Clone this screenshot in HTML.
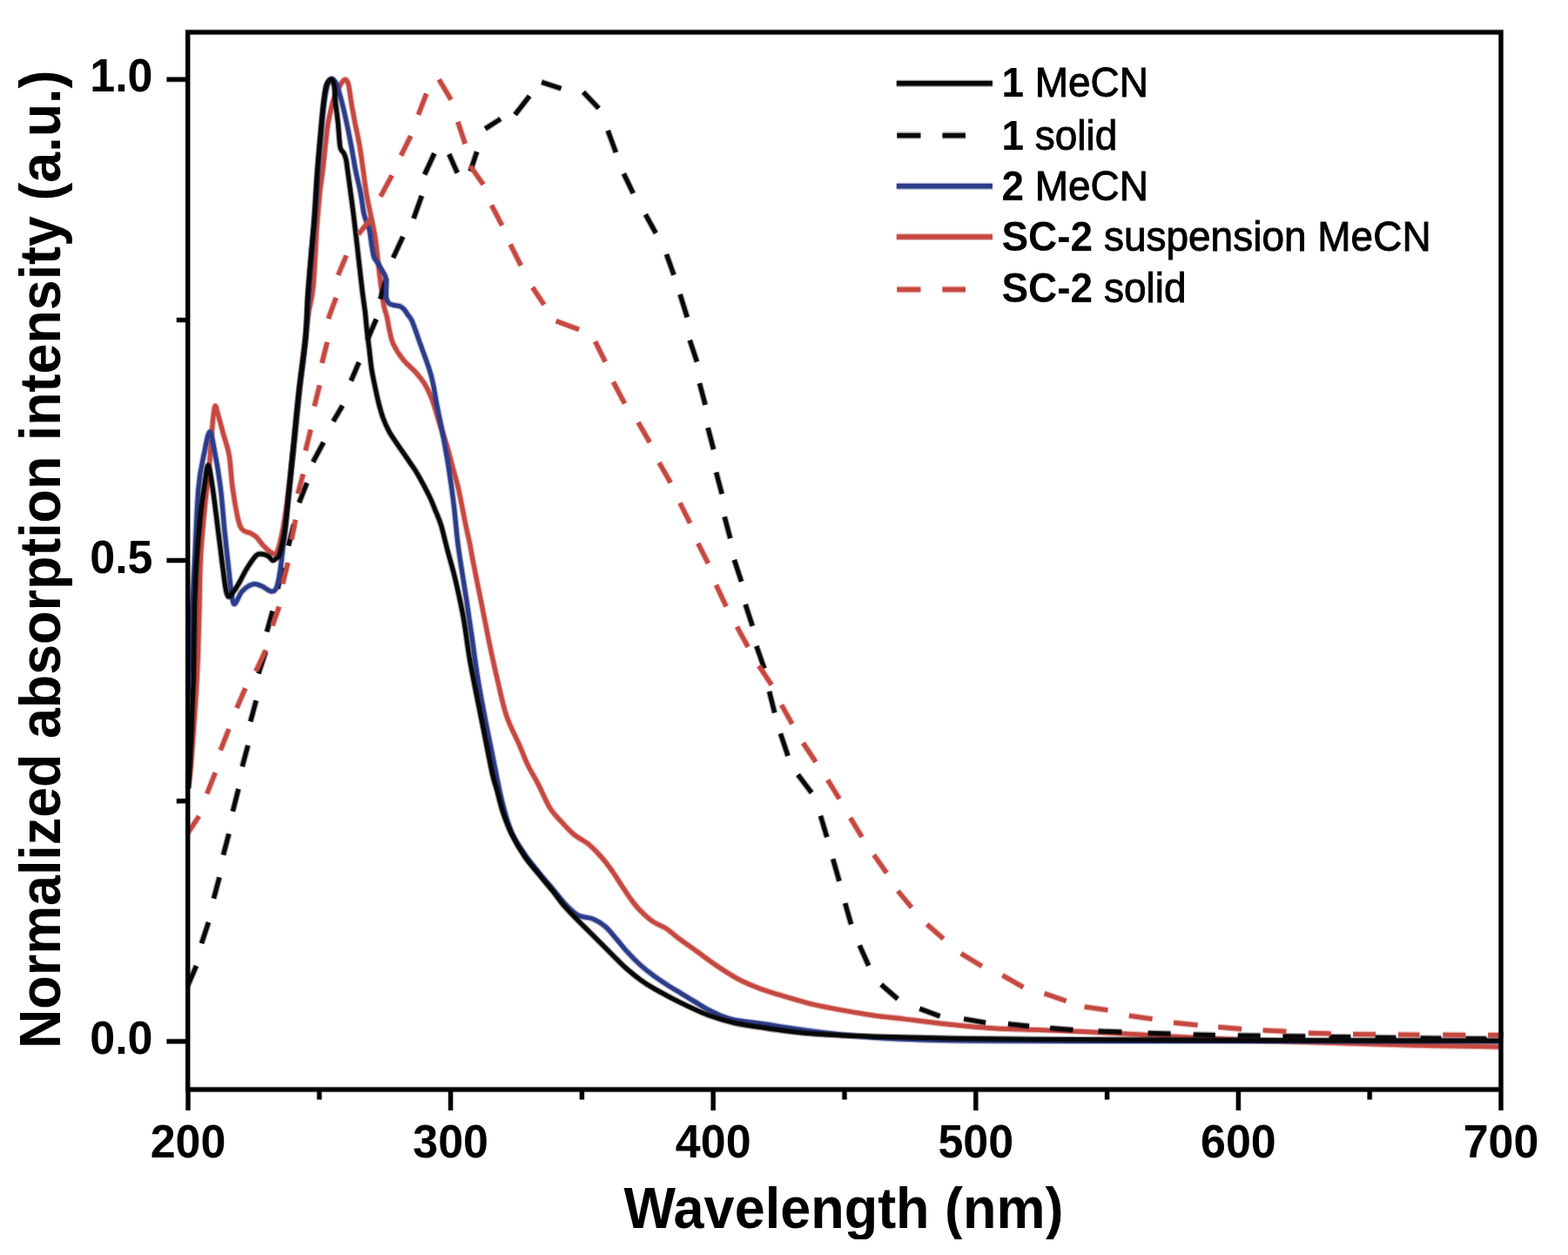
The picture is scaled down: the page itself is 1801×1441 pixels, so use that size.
<!DOCTYPE html>
<html><head><meta charset="utf-8"><title>Normalized absorption spectra</title>
<style>html,body{margin:0;padding:0;background:#fff;overflow:hidden;}svg{display:block;}text{white-space:pre;}</style>
</head><body>
<svg width="1801" height="1441" viewBox="0 0 1801 1441">
<defs>
<clipPath id="plotclip"><rect x="213" y="34" width="1514" height="1220"/></clipPath>
<path id="rs" d="M216.0,905.0 C216.6,899.7 218.1,894.5 219.8,873.0 C221.5,851.5 224.9,804.0 226.4,776.0 C227.9,748.0 228.1,727.7 228.8,705.0 C229.5,682.3 229.4,660.8 230.5,640.0 C231.6,619.2 233.9,596.7 235.5,580.0 C237.1,563.3 238.8,553.3 240.0,540.0 C241.2,526.7 241.9,512.2 243.0,500.0 C244.1,487.8 245.4,470.7 246.7,467.0 C248.0,463.3 249.3,472.5 251.0,478.0 C252.7,483.5 254.9,492.4 257.0,500.0 C259.1,507.6 261.6,512.9 263.3,523.3 C265.1,533.7 265.4,549.0 267.5,562.5 C269.6,576.0 272.3,595.7 275.8,604.0 C279.3,612.3 285.2,610.4 288.3,612.5 C291.4,614.6 292.2,614.3 294.6,616.7 C297.1,619.1 299.9,623.9 303.0,627.0 C306.1,630.1 310.7,634.4 313.3,635.4 C315.9,636.4 316.7,636.9 318.5,633.0 C320.3,629.1 322.1,621.7 324.0,612.0 C325.9,602.3 328.0,589.5 330.0,575.0 C332.0,560.5 334.0,542.8 336.0,525.0 C338.0,507.2 340.0,486.8 342.0,468.0 C344.0,449.2 346.0,429.7 348.0,412.0 C350.0,394.3 352.1,375.7 354.0,362.0 C355.9,348.3 358.0,347.0 359.7,330.0 C361.4,313.0 362.7,278.3 364.0,260.0 C365.3,241.7 366.4,230.8 367.5,220.0 C368.6,209.2 369.6,205.0 370.8,195.0 C372.0,185.0 373.5,168.9 374.5,160.0 C375.5,151.1 375.4,149.0 376.8,141.7 C378.2,134.4 380.5,123.0 382.6,116.0 C384.7,109.0 387.8,103.8 389.6,100.0 C391.4,96.2 392.2,94.9 393.5,93.5 C394.8,92.1 395.9,90.8 397.1,91.5 C398.3,92.2 399.5,93.8 400.5,98.0 C401.5,102.2 402.1,109.4 403.3,116.7 C404.5,124.0 406.3,133.4 407.9,141.7 C409.5,150.0 411.4,157.8 412.9,166.7 C414.4,175.6 415.8,185.8 417.1,195.0 C418.4,204.2 419.4,213.1 420.8,221.7 C422.2,230.3 424.1,238.4 425.8,246.7 C427.5,255.0 429.4,262.8 430.8,271.7 C432.2,280.6 433.2,291.9 434.2,300.0 C435.1,308.1 435.8,314.2 436.5,320.0 C437.2,325.8 437.8,329.6 438.6,335.0 C439.4,340.4 440.2,347.5 441.2,352.5 C442.3,357.5 443.7,360.4 444.7,365.0 C445.7,369.6 446.3,375.0 447.5,380.0 C448.7,385.0 449.1,389.4 451.7,395.0 C454.3,400.6 459.1,408.0 463.3,413.3 C467.5,418.6 472.5,422.0 476.7,426.7 C480.9,431.4 485.0,436.1 488.3,441.7 C491.6,447.2 493.9,452.5 496.7,460.0 C499.5,467.5 502.2,478.1 505.0,486.7 C507.8,495.3 510.8,503.4 513.3,511.7 C515.8,520.0 517.8,528.4 520.0,536.7 C522.2,545.0 524.2,550.6 526.7,561.7 C529.2,572.8 532.8,592.8 535.0,603.3 C537.2,613.8 538.4,618.1 539.8,625.0 C541.2,631.9 541.2,633.8 543.3,644.4 C545.4,655.0 549.2,674.0 552.2,688.8 C555.2,703.6 557.9,718.2 561.0,733.2 C564.1,748.2 567.5,764.2 571.0,779.0 C574.5,793.8 577.5,809.3 581.8,822.0 C586.0,834.7 592.4,845.8 596.5,855.3 C600.6,864.8 602.9,871.5 606.5,879.0 C610.1,886.5 613.8,891.9 618.0,900.0 C622.2,908.1 627.1,920.4 631.7,927.8 C636.3,935.2 641.0,939.3 645.6,944.4 C650.2,949.5 654.3,954.1 659.4,958.3 C664.5,962.5 671.0,965.2 676.1,969.4 C681.2,973.6 685.8,978.7 690.0,983.3 C694.2,987.9 697.4,992.1 701.1,997.2 C704.8,1002.3 708.5,1008.3 712.2,1013.9 C715.9,1019.5 719.6,1025.5 723.3,1030.6 C727.0,1035.7 729.9,1039.8 734.4,1044.4 C738.9,1049.0 745.0,1054.7 750.1,1058.3 C755.2,1061.9 760.0,1062.8 765.0,1066.0 C770.0,1069.2 773.8,1073.2 780.0,1077.8 C786.2,1082.4 794.7,1088.3 802.0,1093.6 C809.3,1098.9 816.5,1104.4 824.0,1109.4 C831.5,1114.4 839.5,1119.7 847.0,1123.7 C854.5,1127.7 861.7,1130.7 869.0,1133.6 C876.3,1136.5 883.7,1138.8 891.0,1141.1 C898.3,1143.4 906.5,1145.6 913.0,1147.5 C919.5,1149.4 923.0,1150.7 930.0,1152.4 C937.0,1154.1 946.7,1156.0 955.0,1157.6 C963.3,1159.2 971.7,1160.7 980.0,1162.1 C988.3,1163.5 996.7,1165.0 1005.0,1166.2 C1013.3,1167.4 1022.7,1168.2 1030.0,1169.0 C1037.3,1169.8 1042.2,1170.5 1049.0,1171.3 C1055.8,1172.1 1063.7,1173.1 1071.0,1174.0 C1078.3,1174.9 1085.5,1175.7 1093.0,1176.5 C1100.5,1177.3 1108.5,1178.0 1116.0,1178.7 C1123.5,1179.4 1130.7,1179.9 1138.0,1180.4 C1145.3,1180.9 1150.5,1181.2 1160.0,1181.6 C1169.5,1182.0 1180.8,1182.1 1195.0,1182.6 C1209.2,1183.1 1226.5,1183.7 1245.0,1184.6 C1263.5,1185.5 1288.0,1186.8 1306.0,1187.8 C1324.0,1188.8 1337.3,1189.7 1353.0,1190.5 C1368.7,1191.3 1383.8,1192.1 1400.0,1192.8 C1416.2,1193.5 1433.3,1194.2 1450.0,1194.8 C1466.7,1195.4 1483.3,1196.0 1500.0,1196.5 C1516.7,1197.0 1533.3,1197.5 1550.0,1198.0 C1566.7,1198.5 1583.3,1199.0 1600.0,1199.5 C1616.7,1200.0 1629.3,1200.4 1650.0,1200.8 C1670.7,1201.2 1711.7,1201.8 1724.0,1202.0"/>
<path id="bd" d="M215.7,1131.7 L225.5,1109.0 M231.5,1083.2 L239.5,1059.0 M245.5,1031.7 L252.0,1007.4 M256.5,981.7 L262.9,957.4 M267.4,931.7 L273.9,905.9 M278.3,880.1 L284.8,855.9 M287.7,828.5 L294.2,804.3 M296.9,773.4 L305.1,748.6 M306.5,725.4 L313.1,701.6 M318.9,676.0 L325.1,651.6 M331.3,626.6 L337.5,602.2 M343.6,577.1 L352.5,554.5 M359.5,530.5 L371.6,507.9 M382.8,483.8 L393.4,465.7 M403.2,437.3 L412.3,416.1 M421.8,390.4 L432.2,366.6 M436.9,343.4 L443.6,319.6 M451.6,296.0 L462.8,271.8 M475.1,250.9 L484.4,224.8 M487.7,200.4 L498.9,176.1 M515.8,176.9 L525.3,198.4 M540.3,196.7 L547.7,174.2 M557.3,147.8 L575.0,136.5 M591.6,131.6 L608.2,110.3 M622.1,94.3 L644.5,101.7 M670.0,105.7 L687.7,124.4 M698.2,149.9 L707.4,175.0 M716.4,199.4 L727.3,222.0 M741.4,246.2 L753.3,267.8 M765.5,292.0 L774.0,315.7 M781.1,337.9 L789.3,364.3 M792.3,390.6 L800.5,415.4 M803.5,440.1 L810.1,464.9 M813.1,491.2 L819.6,516.0 M822.6,542.3 L829.2,567.1 M832.2,593.4 L838.8,618.2 M843.4,642.9 L851.6,667.7 M856.2,694.0 L864.3,718.8 M868.9,741.9 L877.9,767.6 M883.6,793.9 L889.7,818.3 M896.5,842.3 L905.0,867.9 M916.5,889.6 L932.2,910.3 M942.5,936.7 L949.8,961.1 M956.7,986.2 L964.0,1011.8 M970.7,1037.1 L977.6,1061.2 M987.3,1085.4 L997.7,1108.7 M1012.2,1130.5 L1031.1,1147.0 M1056.3,1158.2 L1079.6,1166.8 M1107.1,1169.9 L1132.1,1174.3 M1157.9,1175.8 L1182.1,1178.3 M1206.1,1180.5 L1232.4,1182.5 M1261.6,1184.0 L1288.4,1185.0 M1318.6,1186.3 L1344.6,1187.0 M1370.7,1188.0 L1395.9,1188.5 M1421.8,1189.0 L1447.6,1189.3 M1473.5,1189.7 L1499.3,1190.0 M1526.6,1190.5 L1551.4,1190.8 M1579.6,1191.3 L1603.4,1191.5 M1631.6,1192.0 L1655.4,1192.2 M1683.6,1192.5 L1707.4,1192.7"/>
<path id="bl" d="M216.0,800.0 C216.8,783.3 219.2,725.8 220.5,700.0 C221.8,674.2 222.2,668.3 223.5,645.0 C224.8,621.7 226.1,581.2 228.0,560.0 C229.9,538.8 232.9,528.7 235.0,518.0 C237.1,507.3 239.0,496.5 240.8,496.0 C242.6,495.5 243.9,504.3 246.0,515.0 C248.1,525.7 251.3,544.2 253.3,560.0 C255.3,575.8 256.4,594.0 258.0,610.0 C259.6,626.0 261.7,644.0 263.0,656.0 C264.3,668.0 264.9,675.8 266.0,682.0 C267.1,688.2 267.6,694.0 269.6,693.5 C271.6,693.0 274.5,682.8 278.0,679.0 C281.5,675.2 286.6,671.8 290.4,670.8 C294.2,669.8 297.3,671.6 300.8,673.0 C304.3,674.4 308.5,678.7 311.2,679.0 C314.0,679.3 315.8,678.8 317.5,675.0 C319.2,671.2 320.3,665.2 321.7,656.0 C323.1,646.8 324.3,635.2 326.0,620.0 C327.7,604.8 330.0,584.2 332.0,565.0 C334.0,545.8 336.0,524.7 338.0,505.0 C340.0,485.3 341.8,466.3 344.0,447.0 C346.2,427.7 348.8,413.5 351.0,389.0 C353.2,364.5 355.2,323.2 357.0,300.0 C358.8,276.8 360.1,267.5 361.5,250.0 C362.9,232.5 363.8,213.1 365.2,195.0 C366.6,176.9 368.6,154.8 369.8,141.7 C371.0,128.6 371.5,124.0 372.5,116.7 C373.5,109.4 374.8,102.1 376.0,98.0 C377.2,93.9 378.8,93.1 380.0,92.0 C381.2,90.9 381.8,90.5 383.0,91.5 C384.2,92.5 385.4,93.8 387.0,98.0 C388.6,102.2 390.6,109.4 392.5,116.7 C394.4,124.0 396.5,133.4 398.3,141.7 C400.1,150.0 401.6,157.8 403.3,166.7 C405.0,175.6 406.5,185.8 408.3,195.0 C410.1,204.2 412.5,213.1 414.2,221.7 C415.9,230.3 416.6,239.8 418.3,246.7 C420.0,253.6 422.8,257.8 424.2,263.3 C425.6,268.9 425.8,274.7 426.7,280.0 C427.6,285.3 428.3,291.3 429.5,295.0 C430.7,298.7 432.6,299.7 434.0,302.0 C435.4,304.3 436.6,306.5 438.0,309.0 C439.4,311.5 441.5,314.5 442.5,317.0 C443.5,319.5 443.6,321.3 443.8,324.0 C444.0,326.7 443.5,330.0 443.5,333.0 C443.5,336.0 443.2,339.4 443.8,342.0 C444.4,344.6 445.5,347.1 447.0,348.5 C448.5,349.9 451.0,350.0 453.0,350.5 C455.0,351.0 457.2,350.8 459.0,351.5 C460.8,352.2 462.4,353.3 464.0,355.0 C465.6,356.7 466.9,359.2 468.5,361.5 C470.1,363.8 471.0,363.5 473.3,368.8 C475.6,374.1 478.8,383.9 482.1,393.2 C485.4,402.4 490.6,416.2 493.2,424.3 C495.8,432.4 496.2,435.0 497.7,442.0 C499.2,449.0 500.2,456.9 502.1,466.5 C504.0,476.1 506.6,488.0 508.8,499.8 C511.0,511.6 513.4,524.5 515.4,537.5 C517.4,550.5 519.3,563.8 521.0,577.5 C522.7,591.2 524.1,608.8 525.4,619.9 C526.7,631.0 527.1,632.9 528.8,644.4 C530.5,655.9 533.5,674.0 535.8,688.8 C538.0,703.6 540.2,718.4 542.3,733.2 C544.4,748.0 546.2,762.8 548.6,777.6 C551.0,792.4 553.8,807.2 556.6,822.0 C559.4,836.8 562.2,850.1 565.5,866.4 C568.8,882.7 572.9,905.0 576.6,919.9 C580.3,934.8 583.3,945.6 587.8,956.0 C592.3,966.4 598.2,974.2 603.5,982.0 C608.8,989.8 614.1,995.8 619.5,1002.5 C624.9,1009.2 630.9,1015.9 636.0,1022.0 C641.1,1028.1 645.5,1034.2 650.2,1039.0 C654.9,1043.8 658.9,1048.2 664.1,1050.9 C669.3,1053.6 676.3,1053.1 681.5,1055.3 C686.7,1057.5 690.7,1059.9 695.3,1063.9 C699.9,1067.9 705.1,1074.8 709.2,1079.5 C713.3,1084.2 715.6,1087.7 720.0,1092.4 C724.4,1097.2 730.3,1103.3 735.5,1108.0 C740.7,1112.7 745.9,1116.7 751.1,1120.5 C756.3,1124.3 761.4,1127.7 766.6,1131.0 C771.8,1134.3 777.0,1137.4 782.2,1140.6 C787.4,1143.8 792.5,1146.9 797.7,1150.0 C802.9,1153.1 808.1,1156.5 813.3,1159.3 C818.5,1162.0 823.6,1164.5 828.8,1166.5 C834.0,1168.5 836.6,1169.8 844.4,1171.3 C852.2,1172.8 865.1,1174.0 875.5,1175.5 C885.9,1177.0 895.9,1178.7 906.6,1180.3 C917.4,1181.9 927.8,1183.5 940.0,1185.0 C952.2,1186.5 966.7,1188.1 980.0,1189.3 C993.3,1190.5 1001.2,1191.4 1020.0,1192.3 C1038.8,1193.2 1056.3,1194.3 1093.0,1194.8 C1129.7,1195.3 1134.8,1195.3 1240.0,1195.4 C1345.2,1195.5 1643.3,1195.3 1724.0,1195.3"/>
<path id="bs" d="M216.5,905.0 C217.0,895.8 218.7,867.5 219.5,850.0 C220.3,832.5 220.8,812.3 221.3,800.0 C221.8,787.7 221.9,791.3 222.3,776.0 C222.7,760.7 223.1,727.3 223.5,708.0 C223.9,688.7 224.4,673.8 225.0,660.0 C225.6,646.2 226.3,637.5 227.3,625.0 C228.3,612.5 229.7,596.5 231.0,585.0 C232.3,573.5 233.6,564.4 235.0,556.0 C236.4,547.6 237.7,533.8 239.2,534.5 C240.7,535.2 242.4,548.2 244.2,560.0 C246.0,571.8 248.2,590.8 250.0,605.0 C251.8,619.2 253.5,633.2 255.0,645.0 C256.5,656.8 258.0,669.3 259.2,676.0 C260.4,682.7 261.0,684.2 262.3,685.0 C263.6,685.8 265.1,683.4 267.0,681.0 C268.9,678.6 271.0,675.6 273.8,670.8 C276.6,666.0 280.5,657.5 284.0,652.0 C287.5,646.5 291.5,640.1 294.6,637.5 C297.8,634.9 300.5,636.2 302.9,636.5 C305.2,636.8 307.0,637.8 308.7,639.0 C310.4,640.2 311.8,643.2 313.3,643.5 C314.8,643.8 316.3,641.9 317.5,641.0 C318.7,640.1 319.5,640.7 320.6,638.0 C321.7,635.3 322.8,630.4 324.0,625.0 C325.2,619.6 326.4,616.4 327.7,605.9 C329.0,595.4 330.3,579.2 332.0,562.2 C333.7,545.2 335.9,523.3 337.9,503.9 C339.8,484.5 341.5,465.0 343.7,445.6 C345.9,426.2 349.4,405.0 351.0,387.4 C352.6,369.8 352.4,354.6 353.4,340.0 C354.4,325.4 355.5,314.9 356.8,300.0 C358.1,285.1 359.7,268.0 361.0,250.5 C362.3,233.0 363.2,213.1 364.6,195.0 C366.0,176.9 368.0,154.8 369.2,141.7 C370.4,128.6 370.8,123.8 371.7,116.7 C372.6,109.6 373.4,103.1 374.5,99.0 C375.6,94.9 376.8,93.2 378.0,92.0 C379.2,90.8 380.5,90.2 381.5,91.5 C382.5,92.8 383.4,95.8 384.0,100.0 C384.6,104.2 384.6,109.8 385.3,116.7 C386.0,123.7 387.5,133.4 388.3,141.7 C389.1,150.0 389.8,161.6 390.4,166.7 C391.0,171.8 391.4,170.9 392.2,172.5 C393.0,174.1 394.1,174.2 395.0,176.0 C395.9,177.8 396.8,180.1 397.5,183.3 C398.2,186.5 397.9,185.8 399.2,195.0 C400.4,204.2 403.2,224.1 405.0,238.3 C406.8,252.5 408.2,264.2 410.0,280.0 C411.8,295.8 414.4,319.9 416.0,333.0 C417.6,346.1 418.5,350.5 419.4,358.3 C420.3,366.1 420.7,373.1 421.5,380.0 C422.3,386.9 423.1,392.5 424.0,400.0 C424.9,407.5 425.8,417.5 427.0,425.0 C428.2,432.5 429.7,438.7 431.0,445.0 C432.3,451.3 433.5,457.2 435.0,463.0 C436.5,468.8 438.1,474.7 440.0,480.0 C441.9,485.3 444.2,490.3 446.7,495.0 C449.2,499.7 452.2,503.8 455.0,508.0 C457.8,512.2 460.6,516.0 463.3,520.0 C466.1,524.0 468.7,527.8 471.5,532.0 C474.3,536.2 476.4,538.7 480.0,545.0 C483.6,551.3 490.0,563.2 493.3,570.0 C496.6,576.8 497.8,580.5 500.0,586.0 C502.2,591.5 504.3,595.4 506.7,603.3 C509.1,611.2 511.6,622.8 514.4,633.3 C517.2,643.8 520.3,653.6 523.3,666.6 C526.3,679.6 530.0,696.2 532.6,711.0 C535.2,725.8 536.7,740.6 539.2,755.4 C541.7,770.2 544.8,785.0 547.7,799.8 C550.6,814.6 553.6,829.4 556.6,844.2 C559.6,859.0 563.2,878.3 565.5,888.6 C567.8,898.9 568.4,898.8 570.4,906.0 C572.4,913.2 574.5,923.3 577.4,932.0 C580.3,940.7 583.5,949.4 587.8,958.1 C592.1,966.8 597.8,976.4 603.0,984.0 C608.2,991.6 613.6,997.3 619.0,1004.0 C624.4,1010.7 630.8,1018.2 635.5,1024.0 C640.2,1029.8 642.6,1033.8 647.0,1039.0 C651.4,1044.2 656.8,1049.7 662.0,1055.0 C667.2,1060.3 672.5,1065.4 678.0,1070.9 C683.5,1076.4 690.3,1083.2 695.3,1088.2 C700.3,1093.2 703.9,1097.0 708.0,1101.0 C712.1,1105.0 715.4,1108.5 720.0,1112.5 C724.6,1116.5 730.3,1121.2 735.5,1125.0 C740.7,1128.8 743.3,1130.6 751.1,1135.0 C758.9,1139.4 771.8,1146.4 782.2,1151.5 C792.6,1156.6 802.9,1161.6 813.3,1165.5 C823.7,1169.4 834.0,1172.4 844.4,1174.8 C854.8,1177.2 865.1,1178.2 875.5,1179.8 C885.9,1181.4 896.2,1183.0 906.6,1184.2 C917.0,1185.5 927.1,1186.5 937.7,1187.3 C948.3,1188.1 959.0,1188.5 970.0,1189.0 C981.0,1189.5 990.8,1189.8 1004.0,1190.2 C1017.2,1190.6 1034.2,1190.9 1049.0,1191.2 C1063.8,1191.5 1074.5,1191.9 1093.0,1192.2 C1111.5,1192.5 1135.5,1192.8 1160.0,1193.0 C1184.5,1193.2 1191.7,1193.3 1240.0,1193.6 C1288.3,1193.8 1369.3,1194.3 1450.0,1194.5 C1530.7,1194.7 1678.3,1194.9 1724.0,1195.0"/>
<path id="rd" d="M215.7,956.6 L228.6,937.2 M237.7,911.3 L247.3,887.1 M253.3,861.4 L262.9,837.1 M272.0,812.9 L281.8,790.2 M293.9,770.7 L305.2,746.5 M312.9,718.4 L320.6,696.6 M324.7,670.3 L330.7,646.2 M334.9,619.4 L339.4,596.7 M342.1,566.9 L348.2,544.3 M350.9,517.4 L356.9,493.3 M361.1,466.4 L367.1,442.3 M369.8,416.9 L375.8,392.8 M377.1,365.9 L386.0,341.8 M388.4,315.9 L397.8,293.4 M411.7,268.8 L426.8,250.2 M437.1,225.6 L450.2,201.4 M460.6,178.7 L471.8,156.2 M480.5,131.8 L489.8,107.5 M504.2,91.3 L518.1,114.5 M525.9,139.9 L534.2,165.1 M540.2,190.6 L555.1,211.9 M564.6,235.6 L576.7,258.9 M586.2,280.6 L598.3,304.9 M611.7,330.0 L624.9,349.8 M638.7,368.6 L665.0,378.3 M683.6,392.2 L695.2,415.4 M704.4,438.5 L717.5,463.3 M733.1,484.9 L746.3,507.9 M757.1,531.3 L770.2,554.2 M781.0,577.5 L792.6,600.6 M801.8,623.8 L813.4,646.9 M822.5,671.6 L834.1,696.4 M846.5,719.6 L859.1,742.8 M871.7,764.5 L886.2,786.4 M897.6,809.4 L909.8,831.2 M922.4,853.0 L936.9,874.9 M950.7,895.5 L964.1,917.3 M976.7,939.1 L990.0,961.0 M1003.8,981.6 L1018.4,1002.3 M1031.4,1023.0 L1047.0,1042.0 M1064.7,1061.4 L1083.6,1077.8 M1103.9,1094.8 L1127.8,1109.4 M1151.4,1119.8 L1175.3,1133.5 M1199.6,1140.7 L1224.6,1149.3 M1245.6,1156.1 L1272.4,1159.9 M1296.8,1166.2 L1323.6,1170.0 M1348.1,1174.2 L1375.6,1177.1 M1399.3,1179.3 L1426.1,1181.5 M1450.6,1182.9 L1477.4,1184.3 M1502.8,1186.2 L1528.9,1186.9 M1554.1,1187.4 L1580.1,1187.8 M1606.0,1188.0 L1630.6,1188.2 M1657.3,1188.3 L1683.4,1188.4 M1709.2,1188.5 L1730.4,1188.5"/>
<path id="ax" d="M215.7,37 H1724 V1251 H215.7 Z M216.0,1251 V1275 M517.6,1251 V1275 M819.2,1251 V1275 M1120.8,1251 V1275 M1422.4,1251 V1275 M1724.0,1251 V1275 M366.8,1251 V1262.5 M668.4,1251 V1262.5 M970.0,1251 V1262.5 M1271.6,1251 V1262.5 M1573.2,1251 V1262.5 M191.5,1195.8 H215.7 M191.5,643.5 H215.7 M191.5,91.3 H215.7 M202.8,919.7 H215.7 M202.8,367.4 H215.7"/>
</defs>
<rect x="0" y="0" width="1801" height="1441" fill="#fff"/>
<g clip-path="url(#plotclip)" fill="none" stroke-linejoin="round">
<use href="#rs" xlink:href="#rs" stroke="rgb(198,72,64)" stroke-width="7.4" stroke-opacity="0.38"/>
<use href="#rs" xlink:href="#rs" stroke="rgb(198,72,64)" stroke-width="5.0"/>
<use href="#bd" xlink:href="#bd" stroke="#080808" stroke-width="7.4" stroke-opacity="0.38"/>
<use href="#bd" xlink:href="#bd" stroke="#080808" stroke-width="5.0"/>
<use href="#bl" xlink:href="#bl" stroke="rgb(44,60,138)" stroke-width="7.4" stroke-opacity="0.38"/>
<use href="#bl" xlink:href="#bl" stroke="rgb(44,60,138)" stroke-width="5.0"/>
<use href="#bs" xlink:href="#bs" stroke="#080808" stroke-width="7.4" stroke-opacity="0.38"/>
<use href="#bs" xlink:href="#bs" stroke="#080808" stroke-width="5.0"/>
<use href="#rd" xlink:href="#rd" stroke="rgb(198,72,64)" stroke-width="7.4" stroke-opacity="0.38"/>
<use href="#rd" xlink:href="#rd" stroke="rgb(198,72,64)" stroke-width="5.0"/>
</g>
<g fill="none">
<use href="#ax" xlink:href="#ax" stroke="#000" stroke-width="6.4" stroke-opacity="0.35"/>
<use href="#ax" xlink:href="#ax" stroke="#000" stroke-width="5"/>
</g>
<text transform="translate(216.0,1329) scale(1,1.040)" text-anchor="middle" font-family="'Liberation Sans', Arial, Helvetica, sans-serif" font-weight="bold" font-size="52">200</text>
<text transform="translate(517.6,1329) scale(1,1.040)" text-anchor="middle" font-family="'Liberation Sans', Arial, Helvetica, sans-serif" font-weight="bold" font-size="52">300</text>
<text transform="translate(819.2,1329) scale(1,1.040)" text-anchor="middle" font-family="'Liberation Sans', Arial, Helvetica, sans-serif" font-weight="bold" font-size="52">400</text>
<text transform="translate(1120.8,1329) scale(1,1.040)" text-anchor="middle" font-family="'Liberation Sans', Arial, Helvetica, sans-serif" font-weight="bold" font-size="52">500</text>
<text transform="translate(1422.4,1329) scale(1,1.040)" text-anchor="middle" font-family="'Liberation Sans', Arial, Helvetica, sans-serif" font-weight="bold" font-size="52">600</text>
<text transform="translate(1724.0,1329) scale(1,1.040)" text-anchor="middle" font-family="'Liberation Sans', Arial, Helvetica, sans-serif" font-weight="bold" font-size="52">700</text>
<text transform="translate(175.5,1209.8) scale(1,1.040)" text-anchor="end" font-family="'Liberation Sans', Arial, Helvetica, sans-serif" font-weight="bold" font-size="52">0.0</text>
<text transform="translate(175.5,657.5) scale(1,1.040)" text-anchor="end" font-family="'Liberation Sans', Arial, Helvetica, sans-serif" font-weight="bold" font-size="52">0.5</text>
<text transform="translate(175.5,105.3) scale(1,1.040)" text-anchor="end" font-family="'Liberation Sans', Arial, Helvetica, sans-serif" font-weight="bold" font-size="52">1.0</text>
<text transform="translate(969,1410) scale(1,1.06)" text-anchor="middle" font-family="'Liberation Sans', Arial, Helvetica, sans-serif" font-weight="bold" font-size="63">Wavelength (nm)</text>
<text transform="translate(68.7,642.3) rotate(-90) scale(1,1.06)" text-anchor="middle" font-family="'Liberation Sans', Arial, Helvetica, sans-serif" font-weight="bold" font-size="62.8">Normalized absorption intensity (a.u.)</text>
<path d="M1029.8,95.8 H1140" stroke="#080808" stroke-width="8" stroke-opacity="0.4" fill="none"/>
<path d="M1029.8,95.8 H1140" stroke="#080808" stroke-width="5.4" fill="none"/>
<text transform="translate(1150.4,111.3) scale(1,1.04)" font-family="'Liberation Sans', Arial, Helvetica, sans-serif" font-size="46"><tspan font-weight="bold">1</tspan><tspan stroke="#000" stroke-width="0.9"> MeCN</tspan></text>
<path d="M1030.3,155.6 H1057.4 M1082.5,155.6 H1109.0" stroke="#080808" stroke-width="8" stroke-opacity="0.4" fill="none"/>
<path d="M1030.3,155.6 H1057.4 M1082.5,155.6 H1109.0" stroke="#080808" stroke-width="5.4" fill="none"/>
<text transform="translate(1150.4,171.5) scale(1,1.04)" font-family="'Liberation Sans', Arial, Helvetica, sans-serif" font-size="46"><tspan font-weight="bold">1</tspan><tspan stroke="#000" stroke-width="0.9"> solid</tspan></text>
<path d="M1029.8,213.8 H1140" stroke="rgb(44,60,138)" stroke-width="8" stroke-opacity="0.4" fill="none"/>
<path d="M1029.8,213.8 H1140" stroke="rgb(44,60,138)" stroke-width="5.4" fill="none"/>
<text transform="translate(1150.4,230.0) scale(1,1.04)" font-family="'Liberation Sans', Arial, Helvetica, sans-serif" font-size="46"><tspan font-weight="bold">2</tspan><tspan stroke="#000" stroke-width="0.9"> MeCN</tspan></text>
<path d="M1029.8,272.0 H1140" stroke="rgb(198,72,64)" stroke-width="8" stroke-opacity="0.4" fill="none"/>
<path d="M1029.8,272.0 H1140" stroke="rgb(198,72,64)" stroke-width="5.4" fill="none"/>
<text transform="translate(1150.4,288.0) scale(1,1.04)" font-family="'Liberation Sans', Arial, Helvetica, sans-serif" font-size="46"><tspan font-weight="bold">SC-2</tspan><tspan stroke="#000" stroke-width="0.9"> suspension MeCN</tspan></text>
<path d="M1030.3,332.4 H1057.4 M1082.5,332.4 H1109.0" stroke="rgb(198,72,64)" stroke-width="8" stroke-opacity="0.4" fill="none"/>
<path d="M1030.3,332.4 H1057.4 M1082.5,332.4 H1109.0" stroke="rgb(198,72,64)" stroke-width="5.4" fill="none"/>
<text transform="translate(1150.4,346.6) scale(1,1.04)" font-family="'Liberation Sans', Arial, Helvetica, sans-serif" font-size="46"><tspan font-weight="bold">SC-2</tspan><tspan stroke="#000" stroke-width="0.9"> solid</tspan></text>
<rect x="0" y="1423" width="1801" height="18" fill="#fff"/>
</svg>
</body></html>
